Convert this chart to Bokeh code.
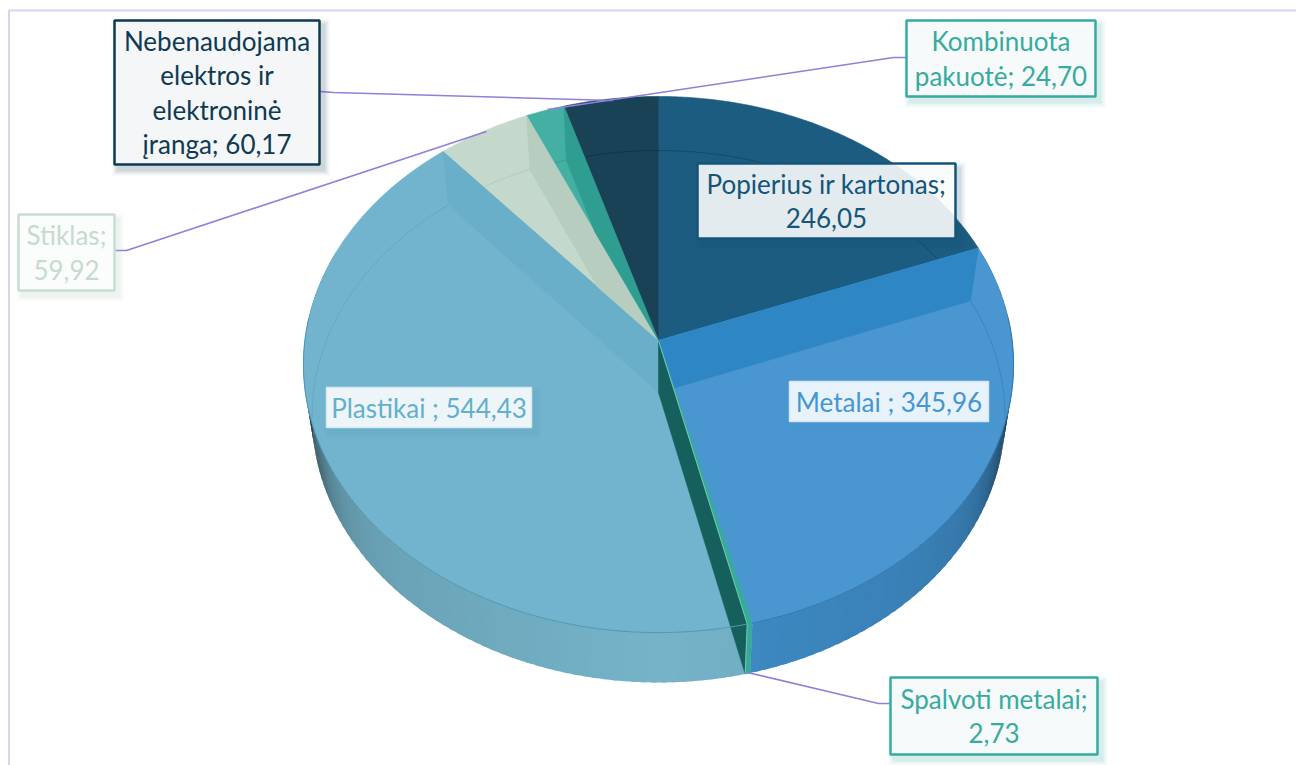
import math
from bokeh.plotting import figure
from bokeh.models import Range1d
from bokeh.core.properties import value
from bokeh.embed import file_html
from bokeh.resources import INLINE

# ---- data ----
names = ["Popierius ir kartonas", "Metalai", "Spalvoti metalai", "Plastikai",
         "Stiklas", "Kombinuota pakuotė", "Nebenaudojama elektros ir elektroninė įranga"]
values = [246.05, 345.96, 2.73, 544.43, 59.92, 24.70, 60.17]

top_colors = ["#1c5c80", "#4a96d0", "#36ab99", "#72b4ce", "#c4d9cc", "#44b0a3", "#1a4257"]
wall_colors = ["#1c5c80", "#3f8dc8", "#36ab99", "#76b4ca", "#c4d9cc", "#44b0a3", "#1a4257"]
arc_colors = ["#144a69", "#3d86bd", "#36ab99", "#64a8c3", "#b3cbbd", "#36a093", "#10344a"]

label_lines = [["Popierius ir kartonas;", "246,05"],
               ["Metalai ; 345,96"],
               ["Spalvoti metalai;", "2,73"],
               ["Plastikai ; 544,43"],
               ["Stiklas;", "59,92"],
               ["Kombinuota", "pakuotė; 24,70"],
               ["Nebenaudojama", "elektros ir", "elektroninė", "įranga; 60,17"]]
text_colors = ["#14557a", "#4496d3", "#36ab9f", "#62b0cc", "#c5dbce", "#36ab9f", "#0e3a52"]

# ---- layout / style ----
W, H = 1296, 765
FONT = "Lato"
FSIZE = "26px"
LINE_H = 34.5
# box: left, right, top, bottom
boxes = [(697, 955, 163, 238), (789, 988, 381, 421), (890, 1097, 677, 754),
         (326, 531, 387, 427), (18, 114, 214, 290), (906, 1095, 20, 96), (114, 319, 20, 164)]
box_fill = ["#ffffff", "#ffffff", "#f6fafa", "#ffffff", "#fbfdfc", "#f6fafa", "#f4f6f8"]
box_alpha = [0.88, 0.88, 1, 0.88, 1, 1, 1]
box_line = ["#14557a", "#d5e6f5", "#36ab9f", "#d5eaf2", "#c9ddd0", "#36ab9f", "#0e3a52"]
box_line_w = [2.5, 1.5, 2.5, 1.5, 2.5, 2.5, 2.5]
box_shadow = ["#14557a", "#4496d3", "#36ab9f", "#4a9ab8", "#a9c7b6", "#36ab9f", "#0e3a52"]

leaders = [([320, 333, 612], [91, 92, 100]),
           ([906, 893, 547], [57, 57, 109]),
           ([114, 126, 486], [250, 250, 131]),
           ([747, 878, 889], [672, 703, 703])]
LEADER = "#8f80da"
FRAME = "#d8d3f0"

# projection of the disc
CX = 658
TOP = dict(cy=340, a=353.6, b=265.9, p=0.0896)
BOT = dict(cy=392, a=345.0, b=263.8, p=0.0902)


def proj(theta, g):
    u, v = math.sin(theta), math.cos(theta)
    w = 1 + g["p"] * v
    return (CX + g["a"] * u / w, g["cy"] - g["b"] * v / w)


def rim(t0, t1, g, step=math.radians(0.5)):
    n = max(2, int(abs(t1 - t0) / step) + 1)
    return [proj(t0 + (t1 - t0) * i / (n - 1), g) for i in range(n)]


def shade(hexc, f):
    r, g, b = [int(hexc[i:i + 2], 16) for i in (1, 3, 5)]
    return "#%02x%02x%02x" % (int(r * f), int(g * f), int(b * f))


def cross(o, a, b):
    return (a[0] - o[0]) * (b[1] - o[1]) - (a[1] - o[1]) * (b[0] - o[0])


def clip_half(poly, o, a, sign):
    out = []
    for i, q in enumerate(poly):
        r = poly[(i + 1) % len(poly)]
        cq, cr = sign * cross(o, a, q), sign * cross(o, a, r)
        if cq >= 0:
            out.append(q)
        if cq * cr < 0:
            s = cq / (cq - cr)
            out.append((q[0] + s * (r[0] - q[0]), q[1] + s * (r[1] - q[1])))
    return out


total = sum(values)
edges = [0.0]
for v in values:
    edges.append(edges[-1] + v / total * 2 * math.pi)

APEX = (CX, TOP["cy"])
APEX_B = (CX, BOT["cy"])

p = figure(width=W, height=H, x_range=Range1d(0, W), y_range=Range1d(H, 0),
           output_backend="svg", toolbar_location=None, x_axis_location=None, y_axis_location=None,
           min_border=0, outline_line_color=None, background_fill_color="white", tools="")
p.grid.visible = False


def fill(poly, color, alpha=1.0, line=True):
    if len(poly) < 3:
        return
    p.patch([q[0] for q in poly], [q[1] for q in poly], fill_color=color, fill_alpha=alpha,
            line_color=color if line else None, line_alpha=alpha, line_width=0.6)


def wedge_clip(poly, i):
    t0, t1 = proj(edges[i], TOP), proj(edges[i + 1], TOP)
    poly = clip_half(poly, APEX, t0, 1)
    if poly:
        poly = clip_half(poly, APEX, t1, -1)
    return poly


def wall(theta):
    return [APEX, proj(theta, TOP), proj(theta, BOT), APEX_B]


# frame
p.line([8.5, 8.5, W], [H, 10, 10], line_color=FRAME, line_width=2)

# outer wall, shaded by angle; each strip overlaps the next so no seams show
for i in range(len(values)):
    a0, a1 = edges[i], edges[i + 1]
    a0c, a1c = max(a0, math.radians(70)), min(a1, math.radians(290))
    if a1c <= a0c:
        continue
    n = max(1, int(math.degrees(a1c - a0c) / 1.5))
    for k in range(n):
        s0 = a0c + (a1c - a0c) * k / n
        s1 = min(a1c, a0c + (a1c - a0c) * (k + 1) / n + math.radians(0.8))
        mid = abs(math.sin(a0c + (a1c - a0c) * (k + 0.5) / n))
        f = 1 - 0.13 * mid - 0.62 * mid ** 14
        fill(rim(s0, s1, TOP) + rim(s1, s0, BOT), shade(wall_colors[i], f), line=False)

# top faces
for i in range(len(values)):
    fill([APEX] + rim(edges[i], edges[i + 1], TOP), top_colors[i])

# inner walls seen through the top (slice, wall edge index, colour)
bands = [(1, 1, "#2e86c4"), (3, 4, "#69afca"), (4, 5, "#b6cdc0"), (5, 6, "#2f9d90")]
for i, e, c in bands:
    fill(wedge_clip(wall(edges[e]), i), c)
fill(wedge_clip(wall(edges[3]), 3), "#15605c")

# bottom rim seen through the top
for i in range(len(values)):
    pts = [q for q in rim(edges[i], edges[i + 1], BOT)]
    t0, t1 = proj(edges[i], TOP), proj(edges[i + 1], TOP)
    seg = [q for q in pts if cross(APEX, t0, q) >= 0 and cross(APEX, t1, q) <= 0]
    seg = [q for q in seg if q[1] < 420]
    if len(seg) > 1:
        p.line([q[0] for q in seg], [q[1] for q in seg], line_color=arc_colors[i], line_width=1)

# thin slice and its light edge
k = 2
fill([APEX] + rim(edges[k], edges[k + 1], TOP), top_colors[k])
fill(rim(edges[k], edges[k + 1], TOP) + rim(edges[k + 1], edges[k], BOT), "#36ab99")
e_t, e_b = proj(edges[k + 1], TOP), proj(edges[k + 1], BOT)
p.line([APEX[0], e_t[0], e_b[0]], [APEX[1], e_t[1], e_b[1]], line_color="#8cc8c2", line_width=0.8)

# front rim line of the top face
for i, c in [(1, "#2f78ad"), (3, "#4f98b3")]:
    a0, a1 = max(edges[i], math.radians(85)), min(edges[i + 1], math.radians(275))
    seg = rim(a0, a1, TOP)
    p.line([q[0] for q in seg], [q[1] for q in seg], line_color=c, line_width=1)

# leader lines
for xs, ys in leaders:
    p.line(xs, ys, line_color=LEADER, line_width=1.6)

# label boxes
for i, (l, r, t, b) in enumerate(boxes):
    for d, al in [(6, 0.05), (4, 0.07), (2, 0.09)]:
        p.quad(left=l + 4 - d, right=r + 4 + d, top=t + 5 - d, bottom=b + 5 + d,
               fill_color=box_shadow[i], fill_alpha=al, line_color=None)
    p.quad(left=l, right=r, top=t, bottom=b, fill_color=box_fill[i], fill_alpha=box_alpha[i],
           line_color=box_line[i], line_width=box_line_w[i])
    lines = label_lines[i]
    cy = (t + b) / 2
    for j, s in enumerate(lines):
        p.text([(l + r) / 2], [cy + (j - (len(lines) - 1) / 2) * LINE_H], text=[s],
               text_font=value(FONT), text_font_size=FSIZE, text_color=text_colors[i],
               text_align="center", text_baseline="middle")

open("out.html", "w").write(file_html(p, INLINE))
